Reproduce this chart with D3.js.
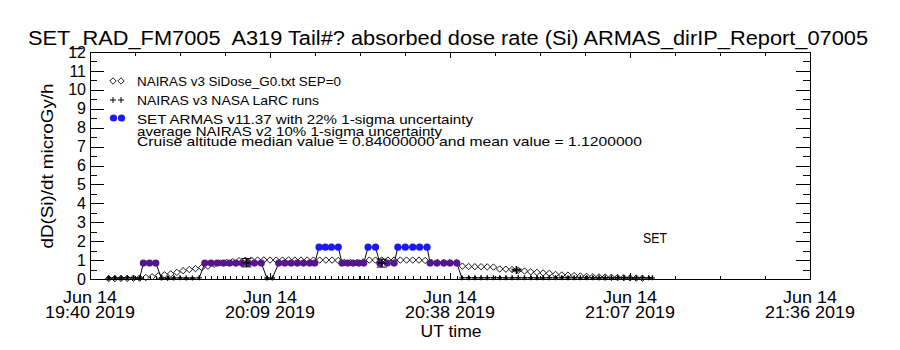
<!DOCTYPE html>
<html lang="en">
<head>
<meta charset="UTF-8">
<script src="https://d3js.org/d3.v7.min.js"></script>
<title>SET_RAD_FM7005 absorbed dose rate</title>
<style>
  body { margin: 0; background: #fff; }
  text { font-family: "Liberation Sans", Arial, sans-serif; fill: #000; }
</style>
</head>
<body>
<script>

// minutes after 19:40 UT, Jun 14 2019
var xTickMinutes = [0, 29, 58, 87, 116];
var xTickDates = ["Jun 14", "Jun 14", "Jun 14", "Jun 14", "Jun 14"];
var xTickTimes = ["19:40 2019", "20:09 2019", "20:38 2019", "21:07 2019", "21:36 2019"];
var yTicks = [0,1,2,3,4,5,6,7,8,9,10,11,12];
var yTickLabels = ["0","1","2","3","4","5","6","7","8","9","10","11","12"];

// NAIRAS v3 SiDose_G0 (diamonds)
var naiTimes = [3,4,5,6,7,8,9,10,11,12,13,14,15,16,17,18,19,20,21,22,23,24,
  25,26,27,28,29,30,31,32,33,34,35,36,37,38,39,40,41,42,43,44,45,46,47,48,49,50,51,52,53,54,55,56,57,58,59,
  60,61,62,63,64,65,66,67,68,69,70,71,72,73,74,75,76,77,78,79,80,81,82,83,84,85,86,87,88,89];
var naiDose = [0.02,0.02,0.03,0.03,0.04,0.05,
  0.08,0.12,0.17,0.22,0.27,0.35,0.44,0.50,0.55,0.60,0.68,0.78,0.85,0.88,0.92,0.97,
  0.99,1.00,1.00,1.01,1.00,1.00,1.00,1.01,1.00,1.00,1.00,1.00,1.00,1.00,1.00,0.98,0.88,0.87,0.87,0.90,
  1.00,1.00,1.00,1.00,1.00,1.00,1.00,1.00,1.00,0.98,0.88,0.87,0.87,0.86,0.86,
  0.68,0.66,0.65,0.65,0.64,0.63,0.53,0.52,0.50,0.46,0.42,0.38,0.35,0.32,0.30,0.24,0.21,0.20,0.18,0.16,
  0.14,0.12,0.11,0.10,0.09,0.08,0.07,0.06,0.05,0.04];

// NAIRAS v3 NASA LaRC runs (plus with error bar)
var larcTimes = [25.2, 47.0, 68.7];
var larcDose = [0.86, 0.84, 0.47];
var larcErr = [0.22, 0.21, 0.05];

// SET ARMAS v11.37
var armasTimes = [3,4,5,6,7,8, 8.6,9.6,10.6, 11.5,12.5,13.5,14.5,15.5,16.5,17.6,
  18.5,19.5,20.5,21.5,22.5,23.5,24.5,25.5,26.5,27.6, 28.5,29.4,
  30.4,31.4,32.4,33.4,34.4,35.4,36.2, 36.9,37.9,38.9,40.0, 40.6,41.5,42.4,43.3,44.1,
  44.8,46.0, 46.7,47.9,49.0, 49.6,50.8,52.0,53.1,54.3, 54.8,55.9,57.0,58.0,59.1,
  59.9,61,62,63,64,65,66,67,68,69,70,71,72,73,74,75,76,77,78,79,80,81,82,83,84,85,86,87,88,89,90,90.6];
var armasDose = [0.05,0.06,0.05,0.07,0.06,0.05, 0.84,0.84,0.84, 0.05,0.04,0.05,0.06,0.05,0.05,0.06,
  0.84,0.84,0.84,0.84,0.84,0.84,0.84,0.84,0.84,0.84, 0.05,0.05,
  0.84,0.84,0.84,0.84,0.84,0.84,0.84, 1.68,1.68,1.68,1.68, 0.84,0.84,0.84,0.84,0.84,
  1.68,1.68, 0.84,0.84,0.84, 1.68,1.68,1.68,1.68,1.68, 0.84,0.84,0.84,0.84,0.84,
  0.06,0.07,0.06,0.06,0.07,0.06,0.07,0.06,0.06,0.07,0.06,0.07,0.06,0.06,0.07,0.06,0.06,0.07,0.06,0.06,
  0.07,0.06,0.06,0.07,0.06,0.06,0.07,0.06,0.06,0.07,0.06,0.06];

var W = 900, H = 350;
var svg = d3.select("body").append("svg").attr("width", W).attr("height", H);

var x = d3.scaleLinear().domain([0, 116]).range([90, 810]);
var y = d3.scaleLinear().domain([0, 12]).range([279, 52]);
var doseColor = d3.scaleThreshold().domain([0.4, 1.2]).range(["#000000", "#561689", "#1a1af5"]);

var xMinor = d3.range(0, 116.01, 7.25).filter(function(d){ return xTickMinutes.indexOf(d) < 0; });
var yMinor = d3.range(0.5, 12, 1);

function addAxis(axis, tx, ty) {
  var g = svg.append("g").attr("transform", "translate(" + tx + "," + ty + ")").call(axis);
  g.select(".domain").remove();
  g.selectAll("line").attr("stroke", "#000").attr("shape-rendering", "crispEdges");
  return g;
}

// frame + ticks
svg.append("rect").attr("x", 90).attr("y", 52).attr("width", 720).attr("height", 227)
  .attr("fill", "none").attr("stroke", "#000").attr("shape-rendering", "crispEdges");

addAxis(d3.axisBottom(x).tickValues(xTickMinutes).tickSize(-6).tickFormat(""), 0, 279);
addAxis(d3.axisBottom(x).tickValues(xMinor).tickSize(-3.5).tickFormat(""), 0, 279);
addAxis(d3.axisTop(x).tickValues(xTickMinutes).tickSize(-6).tickFormat(""), 0, 52);
addAxis(d3.axisTop(x).tickValues(xMinor).tickSize(-3.5).tickFormat(""), 0, 52);

var yl = addAxis(d3.axisLeft(y).tickValues(yTicks).tickSize(-14).tickPadding(4)
  .tickFormat(function(d, i){ return yTickLabels[i]; }), 90, 0);
yl.attr("font-size", 16).attr("font-family", "Liberation Sans, Arial, sans-serif");
addAxis(d3.axisLeft(y).tickValues(yMinor).tickSize(-7).tickFormat(""), 90, 0);
addAxis(d3.axisRight(y).tickValues(yTicks).tickSize(-14).tickFormat(""), 810, 0);
addAxis(d3.axisRight(y).tickValues(yMinor).tickSize(-7).tickFormat(""), 810, 0);

// x tick labels (two lines)
var xl = svg.append("g").selectAll("g").data(xTickMinutes).join("g");
xl.append("text").attr("x", function(d){ return x(d); }).attr("y", 303)
  .attr("text-anchor", "middle").attr("font-size", 16)
  .attr("textLength", 54).attr("lengthAdjust", "spacingAndGlyphs")
  .text(function(d, i){ return xTickDates[i]; });
xl.append("text").attr("x", function(d){ return x(d); }).attr("y", 318)
  .attr("text-anchor", "middle").attr("font-size", 16)
  .attr("textLength", 90).attr("lengthAdjust", "spacingAndGlyphs")
  .text(function(d, i){ return xTickTimes[i]; });

// titles
svg.append("text").attr("x", 448).attr("y", 45).attr("text-anchor", "middle")
  .attr("font-size", 20).style("white-space", "pre")
  .attr("textLength", 840).attr("lengthAdjust", "spacingAndGlyphs")
  .text("SET_RAD_FM7005  A319 Tail#? absorbed dose rate (Si) ARMAS_dirIP_Report_07005");
svg.append("text").attr("x", 451).attr("y", 337).attr("text-anchor", "middle")
  .attr("font-size", 16).attr("textLength", 61).attr("lengthAdjust", "spacingAndGlyphs")
  .text("UT time");
svg.append("text").attr("transform", "translate(53,166) rotate(-90)").attr("text-anchor", "middle")
  .attr("font-size", 16).attr("textLength", 165).attr("lengthAdjust", "spacingAndGlyphs")
  .text("dD(Si)/dt microGy/h");
svg.append("text").attr("x", 643).attr("y", 243).attr("font-size", 14)
  .attr("textLength", 24).attr("lengthAdjust", "spacingAndGlyphs").text("SET");

// symbols
var diamondPath = "M0,-3.2L3.2,0L0,3.2L-3.2,0Z";
var plusPath = "M-2.5,0H2.5M0,-2.5V2.5";

// NAIRAS diamonds
svg.append("g").selectAll("path").data(naiTimes).join("path")
  .attr("transform", function(d, i){ return "translate(" + x(d) + "," + y(naiDose[i]) + ")"; })
  .attr("d", diamondPath).attr("fill", "none").attr("stroke", "#000").attr("stroke-width", 0.9);

// ARMAS rug at zero
svg.append("g").selectAll("line").data(armasTimes).join("line")
  .attr("x1", function(d){ return Math.round(x(d)) + 0.5; })
  .attr("x2", function(d){ return Math.round(x(d)) + 0.5; })
  .attr("y1", y(0)).attr("y2", y(0) - 3).attr("stroke", "#000");

// ARMAS line
var armas = armasTimes.map(function(t, i){ return { t: t, v: armasDose[i] }; });
svg.append("path").datum(armas)
  .attr("d", d3.line().x(function(d){ return x(d.t); }).y(function(d){ return y(d.v); }))
  .attr("fill", "none").attr("stroke", "#000").attr("stroke-width", 1);

// ARMAS zero-level plus markers
svg.append("g").selectAll("path").data(armas.filter(function(d){ return d.v < 0.4; })).join("path")
  .attr("transform", function(d){ return "translate(" + x(d.t) + "," + y(d.v) + ")"; })
  .attr("d", plusPath).attr("stroke", "#000").attr("stroke-width", 1.4);

// ARMAS coloured dots
svg.append("g").selectAll("circle").data(armas.filter(function(d){ return d.v >= 0.4; })).join("circle")
  .attr("cx", function(d){ return x(d.t); }).attr("cy", function(d){ return y(d.v); })
  .attr("r", 3.6).attr("fill", function(d){ return doseColor(d.v); });

// LaRC runs with error bars
var larc = svg.append("g").selectAll("g").data(larcTimes).join("g")
  .attr("transform", function(d){ return "translate(" + x(d) + ",0)"; });
larc.append("line").attr("x1", 0).attr("x2", 0)
  .attr("y1", function(d, i){ return y(larcDose[i] - larcErr[i]); })
  .attr("y2", function(d, i){ return y(larcDose[i] + larcErr[i]); }).attr("stroke", "#000");
larc.append("line").attr("x1", -5).attr("x2", 5)
  .attr("y1", function(d, i){ return y(larcDose[i] - larcErr[i]); })
  .attr("y2", function(d, i){ return y(larcDose[i] - larcErr[i]); }).attr("stroke", "#000");
larc.append("line").attr("x1", -5).attr("x2", 5)
  .attr("y1", function(d, i){ return y(larcDose[i] + larcErr[i]); })
  .attr("y2", function(d, i){ return y(larcDose[i] + larcErr[i]); }).attr("stroke", "#000");
larc.append("path").attr("transform", function(d, i){ return "translate(0," + y(larcDose[i]) + ")"; })
  .attr("d", "M-4,0H4M0,-4V4").attr("stroke", "#000").attr("stroke-width", 1.5);

// legend
var legendText = [
  "NAIRAS v3 SiDose_G0.txt SEP=0",
  "NAIRAS v3 NASA LaRC runs",
  "SET ARMAS v11.37 with 22% 1-sigma uncertainty",
  "average NAIRAS v2 10% 1-sigma uncertainty",
  "Cruise altitude median value = 0.84000000 and mean value = 1.1200000"
];
var legendY = [86, 105, 124, 136, 146];
var legendW = [204, 182, 336, 305, 505];
svg.append("g").selectAll("text").data(legendText).join("text")
  .attr("x", 137).attr("y", function(d, i){ return legendY[i]; })
  .attr("font-size", 13).attr("textLength", function(d, i){ return legendW[i]; })
  .attr("lengthAdjust", "spacingAndGlyphs").text(function(d){ return d; });

[113, 121].forEach(function(lx){
  svg.append("path").attr("transform", "translate(" + lx + ",81)").attr("d", diamondPath)
    .attr("fill", "none").attr("stroke", "#000").attr("stroke-width", 0.9);
  svg.append("path").attr("transform", "translate(" + lx + ",100)").attr("d", "M-3,0H3M0,-3V3")
    .attr("stroke", "#000").attr("stroke-width", 1);
  svg.append("circle").attr("cx", lx + 0.5).attr("cy", 118).attr("r", 3.6).attr("fill", doseColor(1.68));
});

</script>
</body>
</html>
